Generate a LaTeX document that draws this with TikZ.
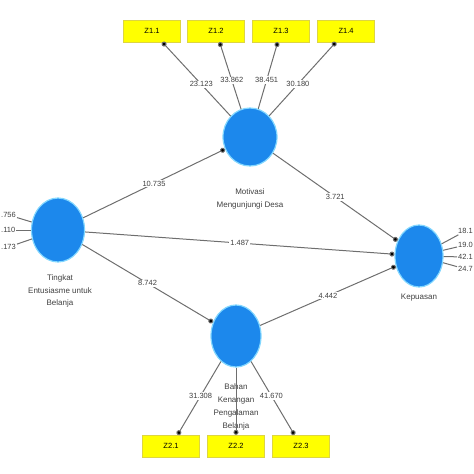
\documentclass[tikz,border=0pt]{standalone}
\usepackage{fontspec}
\setmainfont{Liberation Sans}
\usetikzlibrary{shapes.geometric,arrows.meta}
\definecolor{plsblue}{RGB}{28,136,236}
\definecolor{plsglow}{RGB}{130,215,255}
\definecolor{plsyellow}{RGB}{255,255,0}
\definecolor{plsline}{RGB}{110,110,110}
\begin{document}
\begin{tikzpicture}[x=1pt,y=-1pt,
		latent/.style={ellipse,fill=plsblue,draw=plsglow,line width=1.2pt,inner sep=0pt},
		item/.style={rectangle,fill=plsyellow,draw=yellow!70!gray,minimum width=57,minimum height=22,inner sep=0pt,font=\fontsize{7.5}{8}\selectfont},
		link/.style={draw=plsline,line width=1pt,-{Circle[length=5pt,fill=black]}},
		val/.style={fill=white,inner sep=1pt,font=\fontsize{7.5}{8}\selectfont,text=black!75},
		caption/.style={align=center,font=\fontsize{8}{12.5}\selectfont,text=black!75}]
				\useasboundingbox (0,0) rectangle (474,474);
				\node[latent,minimum width=53,minimum height=64] (tingkat) at (58,230) {};
				\node[latent,minimum width=54,minimum height=58] (motivasi) at (250,137) {};
				\node[latent,minimum width=50,minimum height=62] (bahan) at (236,336) {};
				\node[latent,minimum width=48,minimum height=62] (kepuasan) at (419,256) {};
				\node[item] (z11) at (152,31) {Z1.1};
				\node[item] (z12) at (216,31) {Z1.2};
				\node[item] (z13) at (281,31) {Z1.3};
				\node[item] (z14) at (346,31) {Z1.4};
				\node[item] (z21) at (171,446) {Z2.1};
				\node[item] (z22) at (236,446) {Z2.2};
				\node[item] (z23) at (301,446) {Z2.3};
				\node[val,anchor=west] (x1) at (0,215) {.756};
				\node[val,anchor=west] (x2) at (0,230) {.110};
				\node[val,anchor=west] (x3) at (0,247) {.173};
				\node[val,anchor=east] (y1) at (474,231) {18.1};
				\node[val,anchor=east] (y2) at (474,245) {19.0};
				\node[val,anchor=east] (y3) at (474,257) {42.1};
				\node[val,anchor=east] (y4) at (474,269) {24.7};
				\node[caption] (ltingkat) at (60,291) {Tingkat\\Entusiasme untuk\\Belanja};
				\node[caption] (lmotivasi) at (250,199) {Motivasi\\Mengunjungi Desa};
				\node[caption] (lkepuasan) at (419,298) {Kepuasan};
				\node[caption,font=\fontsize{8}{13}\selectfont] (lbahan) at (236,407) {Bahan\\Kenangan\\Pengalaman\\Belanja};
				\foreach \t/\v in {z11/23.123,z12/33.862,z13/38.451,z14/30.180}{\draw[link] (motivasi)--(\t) node[val,pos=0.43]{\v};}
				\foreach \t/\v in {z21/31.308,z23/41.670}{\draw[link] (bahan)--(\t) node[val,pos=0.47]{\v};}
				\draw[link] (bahan)--(z22);
				\foreach \t in {x1,x2,x3}{\draw[draw=plsline,line width=1pt] (tingkat)--(\t);}
				\foreach \t in {y1,y2,y3,y4}{\draw[draw=plsline,line width=1pt] (kepuasan)--(\t);}
				\draw[link] (tingkat)--(motivasi) node[val,pos=0.5]{10.735};
				\draw[link] (motivasi)--(kepuasan) node[val,pos=0.5]{3.721};
				\draw[link] (tingkat)--(kepuasan) node[val,pos=0.5]{1.487};
				\draw[link] (tingkat)--(bahan) node[val,pos=0.5]{8.742};
				\draw[link] (bahan)--(kepuasan) node[val,pos=0.5]{4.442};
		\end{tikzpicture}
\end{document}
